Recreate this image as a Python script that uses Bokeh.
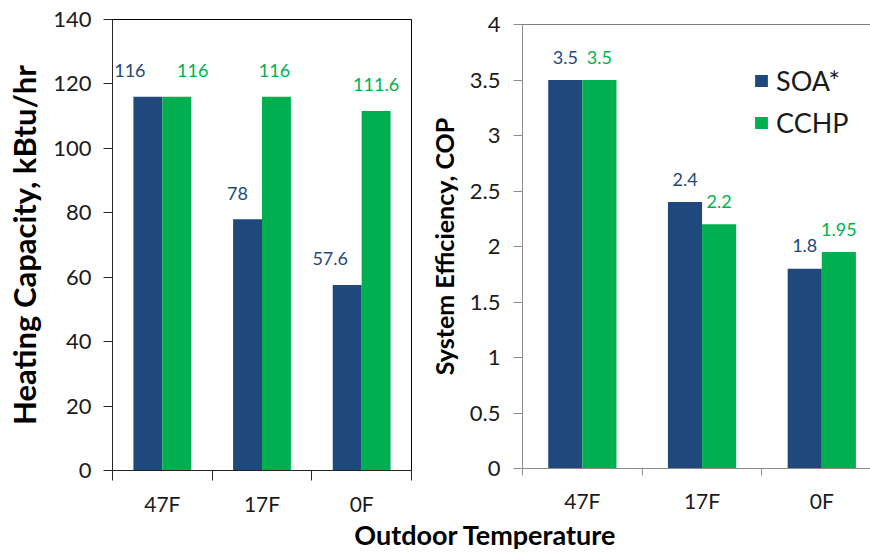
from bokeh.plotting import figure
from bokeh.layouts import column, row
from bokeh.models import (Range1d, FixedTicker, NumeralTickFormatter, Legend,
                          LegendItem, Span, Label, ColumnDataSource)
from bokeh.embed import file_html
from bokeh.resources import INLINE
from bokeh.core.properties import value
import numpy as np

# ---------------- data ----------------
categories = ["47F", "17F", "0F"]
series_names = ["SOA*", "CCHP"]
capacity_soa = [116, 78, 57.6]
capacity_cchp = [116, 116, 111.6]
cop_soa = [3.5, 2.4, 1.8]
cop_cchp = [3.5, 2.2, 1.95]
capacity_ticks = [0, 20, 40, 60, 80, 100, 120, 140]
cop_ticks = [0, 0.5, 1, 1.5, 2, 2.5, 3, 3.5, 4]

# label nudges (style only, in screen px) as in the reference
cap_soa_label_dx = [-18, -10, -17]
cap_cchp_label_dx = [16, -2, 0]

NAVY = "#1F497D"
GREEN = "#00B050"
FONT = "Lato"

pos = np.arange(1, len(categories) + 1)
bounds = np.arange(0.5, len(categories) + 1, 1.0)


def style_axes(p, axis_color, cat_font, tick_out_x, cat_standoff, tick_font,
               y_ticks, y_standoff, ylabel, ylabel_size, ylabel_standoff):
    p.xgrid.visible = False
    p.ygrid.visible = False
    ax = p.xaxis[0]
    ax.ticker = FixedTicker(ticks=[int(v) for v in pos],
                            minor_ticks=[float(v) for v in bounds])
    ax.major_label_overrides = {int(i): c for i, c in zip(pos, categories)}
    ax.major_tick_line_color = None
    ax.major_tick_in = 0
    ax.major_tick_out = 0
    ax.minor_tick_line_color = axis_color
    ax.minor_tick_in = 0
    ax.minor_tick_out = tick_out_x
    ax.major_label_standoff = cat_standoff
    ax.major_label_text_font = FONT
    ax.major_label_text_font_size = cat_font
    ax.major_label_text_color = "#1a1a1a"
    ax.axis_line_color = axis_color

    ay = p.yaxis[0]
    ay.ticker = FixedTicker(ticks=y_ticks)
    ay.formatter = NumeralTickFormatter(format="0.[0]")
    ay.major_tick_in = 0
    ay.major_tick_out = 9
    ay.major_tick_line_color = axis_color
    ay.minor_tick_line_color = None
    ay.axis_line_color = axis_color
    ay.major_label_standoff = y_standoff
    ay.major_label_text_font = FONT
    ay.major_label_text_font_size = tick_font
    ay.major_label_text_color = "#1a1a1a"
    ay.axis_label = ylabel
    ay.axis_label_text_font = FONT
    ay.axis_label_text_font_style = "bold"
    ay.axis_label_text_font_size = ylabel_size
    ay.axis_label_text_color = "black"
    ay.axis_label_standoff = ylabel_standoff
    return ax, ay


# ---------------- left chart: heating capacity ----------------
p1 = figure(width=412, height=518, x_range=Range1d(0.5, 3.5),
            y_range=Range1d(capacity_ticks[0], capacity_ticks[-1]),
            output_backend="svg", title=None,
            toolbar_location=None, min_border_left=112, min_border_right=1,
            min_border_top=19, min_border_bottom=46)
p1.outline_line_color = "black"
p1.outline_line_width = 1
bw1 = 0.29
p1.vbar(x=pos - bw1 / 2, top=capacity_soa, width=bw1, fill_color=NAVY,
        line_color=None)
p1.vbar(x=pos + bw1 / 2, top=capacity_cchp, width=bw1, fill_color=GREEN,
        line_color=None)

src_a = ColumnDataSource(dict(x=pos - bw1 / 2, y=capacity_soa,
                              t=[f"{v:g}" for v in capacity_soa],
                              dx=cap_soa_label_dx))
src_b = ColumnDataSource(dict(x=pos + bw1 / 2, y=capacity_cchp,
                              t=[f"{v:g}" for v in capacity_cchp],
                              dx=cap_cchp_label_dx))
for src, col in ((src_a, NAVY), (src_b, GREEN)):
    p1.text(x="x", y="y", text="t", x_offset="dx", y_offset=-26, source=src,
            text_align="center", text_baseline="middle",
            text_font=value(FONT), text_font_size="18px", text_color=col)

style_axes(p1, "#262626", "21px", 10, 10, "22px", capacity_ticks, 12,
           "Heating Capacity, kBtu/hr", "31px", 7)

# ---------------- right chart: COP ----------------
p2 = figure(width=458, height=518, x_range=Range1d(0.5, 3.407),
            y_range=Range1d(cop_ticks[0], cop_ticks[-1]),
            output_backend="svg", title=None,
            toolbar_location=None, min_border_left=110, min_border_right=0,
            min_border_top=24, min_border_bottom=50)
p2.outline_line_color = None
p2.add_layout(Span(location=cop_ticks[-1], dimension="width",
                   line_color="black", line_width=1))
bw2 = 0.285
r_soa = p2.vbar(x=pos - bw2 / 2, top=cop_soa, width=bw2, fill_color=NAVY,
                line_color=None)
r_cchp = p2.vbar(x=pos + bw2 / 2, top=cop_cchp, width=bw2, fill_color=GREEN,
                 line_color=None)
p2.text(x=pos - bw2 / 2, y=cop_soa, text=[f"{v:g}" for v in cop_soa],
        y_offset=-23, text_align="center", text_baseline="middle",
        text_font=value(FONT), text_font_size="18px", text_color=NAVY)
p2.text(x=pos + bw2 / 2, y=cop_cchp, text=[f"{v:g}" for v in cop_cchp],
        y_offset=-23, text_align="center", text_baseline="middle",
        text_font=value(FONT), text_font_size="18px", text_color=GREEN)

style_axes(p2, "#8C8C8C", "21px", 7, 12, "22px", cop_ticks, 13,
           "System Efficiency, COP", "25px", 8)

legend = Legend(items=[LegendItem(label=series_names[0], renderers=[r_soa]),
                       LegendItem(label=series_names[1], renderers=[r_cchp])],
                location=(231, 329), glyph_width=16, glyph_height=15,
                label_text_font=FONT, label_text_font_size="27px",
                label_text_color="#1a1a1a", label_standoff=7, spacing=9,
                padding=0, margin=0, border_line_color=None,
                background_fill_alpha=0)
p2.add_layout(legend)

# ---------------- shared x title ----------------
p3 = figure(width=870, height=36, x_range=Range1d(0, 1), y_range=Range1d(0, 1),
            output_backend="svg", toolbar_location=None, min_border=0,
            title=None)
p3.axis.visible = False
p3.grid.visible = False
p3.outline_line_color = None
p3.add_layout(Label(x=485, y=20, x_units="screen", y_units="screen",
                    text="Outdoor Temperature", text_align="center",
                    text_baseline="middle", text_font=FONT,
                    text_font_style="bold", text_font_size="27px",
                    text_line_height=1.0, text_color="black"))

# each chart sits in its own column so their frames are not forced to align
layout = column(row(column(p1), column(p2)), p3)
open("out.html", "w").write(file_html(layout, INLINE))
